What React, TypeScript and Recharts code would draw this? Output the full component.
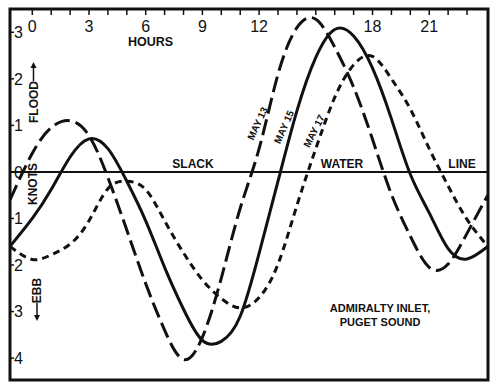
import { LineChart, Line, XAxis, YAxis, ReferenceLine, ReferenceArea } from 'recharts';

// hours after midnight; the frame runs a little past 0 on the left
const HOURS = [-1.18, 0, 1, 2, 3, 4, 5, 6, 7, 8, 9, 10, 11, 12, 13, 14, 15, 16, 17, 18, 19, 20, 21, 22, 23, 24.1];

// current speed in knots, flood positive / ebb negative
const MAY_13 = [-0.6, 0.4, 0.95, 1.1, 0.78, -0.12, -1.25, -2.4, -3.4, -4.03, -3.55, -2.28, -0.78, 0.5, 2.1, 3.1, 3.28, 2.68, 1.82, 0.7, -0.48, -1.38, -2.05, -1.98, -1.32, -0.5];
const MAY_15 = [-1.6, -1.0, -0.38, 0.32, 0.71, 0.5, -0.2, -1.05, -2.05, -2.95, -3.62, -3.64, -3.1, -1.75, -0.2, 1.31, 2.46, 3.06, 2.92, 2.23, 1.14, -0.05, -0.88, -1.65, -1.87, -1.6];
const MAY_17 = [-1.6, -1.88, -1.78, -1.55, -1.05, -0.36, -0.2, -0.38, -1.05, -1.74, -2.32, -2.72, -2.92, -2.7, -1.98, -0.72, 0.5, 1.6, 2.3, 2.48, 2.0, 1.35, 0.5, -0.3, -1.02, -1.6];

const HOUR_TICKS = [0, 1, 2, 3, 4, 5, 6, 7, 8, 9, 10, 11, 12, 13, 14, 15, 16, 17, 18, 19, 20, 21, 22, 23];
// 15 is hidden behind the May 13 crest in the original
const HOUR_LABELS = [0, 3, 6, 9, 12, 18, 21];
const KNOT_TICKS = [-4, -3, -2, -1, 0, 1, 2, 3];

const X_DOMAIN: [number, number] = [-1.18, 24.11];
const Y_DOMAIN: [number, number] = [-4.47, 3.5];

const data = HOURS.map((h, i) => ({ h, may13: MAY_13[i], may15: MAY_15[i], may17: MAY_17[i] }));

const INK = '#111';

function HourTick({ x, y, payload }: any) {
  const v = payload.value;
  return (
    <g>
      <line x1={x} x2={x} y1={y} y2={y + 6} stroke={INK} strokeWidth={1.5} />
      {HOUR_LABELS.includes(v) && (
        <text x={x} y={y + 23} textAnchor="middle" fontSize={16} fill={INK}>
          {v}
        </text>
      )}
    </g>
  );
}

function KnotTick({ x, y, payload }: any) {
  return (
    <g>
      <line x1={x} x2={x + 4} y1={y} y2={y} stroke={INK} strokeWidth={1.5} />
      <text x={x + 4} y={y} dy="0.36em" textAnchor="start" fontSize={16} fill={INK}>
        {Math.abs(payload.value)}
      </text>
    </g>
  );
}

const bold = { fontWeight: 700, fill: INK } as const;
const rot = (x: number, y: number, a: number) => `translate(${x},${y}) rotate(${a})`;

export default function App() {
  return (
    <div style={{ position: 'absolute', left: 0, top: 0, width: 500, height: 389, background: '#fff', fontFamily: '"Liberation Sans", Arial, sans-serif' }}>
      <LineChart width={500} height={389} data={data} margin={{ top: 8, left: 9, right: 12, bottom: 9 }}>
        <XAxis
          dataKey="h"
          type="number"
          orientation="top"
          domain={X_DOMAIN}
          allowDataOverflow
          ticks={HOUR_TICKS}
          interval={0}
          height={1}
          axisLine={false}
          tickLine={false}
          tickSize={0}
          tickMargin={0}
          tick={<HourTick />}
        />
        <YAxis
          type="number"
          domain={Y_DOMAIN}
          allowDataOverflow
          ticks={KNOT_TICKS}
          interval={0}
          width={1}
          axisLine={false}
          tickLine={false}
          tickSize={0}
          tickMargin={0}
          tick={<KnotTick />}
        />
        <ReferenceLine y={0} stroke={INK} strokeWidth={2} />
        <Line type="natural" dataKey="may13" stroke={INK} strokeWidth={3} strokeDasharray="16 6" dot={false} isAnimationActive={false} />
        <Line type="natural" dataKey="may15" stroke={INK} strokeWidth={3} dot={false} isAnimationActive={false} />
        <Line type="natural" dataKey="may17" stroke={INK} strokeWidth={3} strokeDasharray="7 5" dot={false} isAnimationActive={false} />
        <ReferenceArea x1={X_DOMAIN[0]} x2={X_DOMAIN[1]} y1={Y_DOMAIN[0]} y2={Y_DOMAIN[1]} fill="none" fillOpacity={0} stroke={INK} strokeWidth={3} />
      </LineChart>
      <svg width={500} height={389} style={{ position: 'absolute', left: 0, top: 0, pointerEvents: 'none' }}>
        <text x={150.5} y={46} textAnchor="middle" fontSize={12.5} {...bold}>HOURS</text>
        <text transform={rot(33.5, 102, -90)} textAnchor="middle" dominantBaseline="central" fontSize={12} {...bold}>FLOOD</text>
        {/* flood / ebb arrows */}
        <line x1={33.5} x2={33.5} y1={81} y2={66} stroke={INK} strokeWidth={1.5} />
        <path d="M30.5,68 L33.5,62 L36.5,68 Z" fill={INK} />
        <text transform={rot(33, 184, -90)} textAnchor="middle" dominantBaseline="central" fontSize={12} {...bold}>KNOTS</text>
        <text transform={rot(37, 290.5, -90)} textAnchor="middle" dominantBaseline="central" fontSize={12} {...bold}>EBB</text>
        <line x1={37} x2={37} y1={303} y2={317} stroke={INK} strokeWidth={1.5} />
        <path d="M34,315 L37,321 L40,315 Z" fill={INK} />
        <text x={193} y={167.5} textAnchor="middle" fontSize={12} {...bold}>SLACK</text>
        <text x={342} y={167.5} textAnchor="middle" fontSize={12} {...bold}>WATER</text>
        <text x={462} y={167.5} textAnchor="middle" fontSize={12} {...bold}>LINE</text>
        <text transform={rot(257.5, 123.5, -65)} textAnchor="middle" dominantBaseline="central" fontSize={10} {...bold}>MAY 13</text>
        <text transform={rot(284, 127, -66)} textAnchor="middle" dominantBaseline="central" fontSize={10} {...bold}>MAY 15</text>
        <text transform={rot(314, 131, -63)} textAnchor="middle" dominantBaseline="central" fontSize={10} {...bold}>MAY 17</text>
        <text x={380} y={312} textAnchor="middle" fontSize={11} {...bold}>ADMIRALTY INLET,</text>
        <text x={380} y={326} textAnchor="middle" fontSize={11} {...bold}>PUGET SOUND</text>
      </svg>
    </div>
  );
}
